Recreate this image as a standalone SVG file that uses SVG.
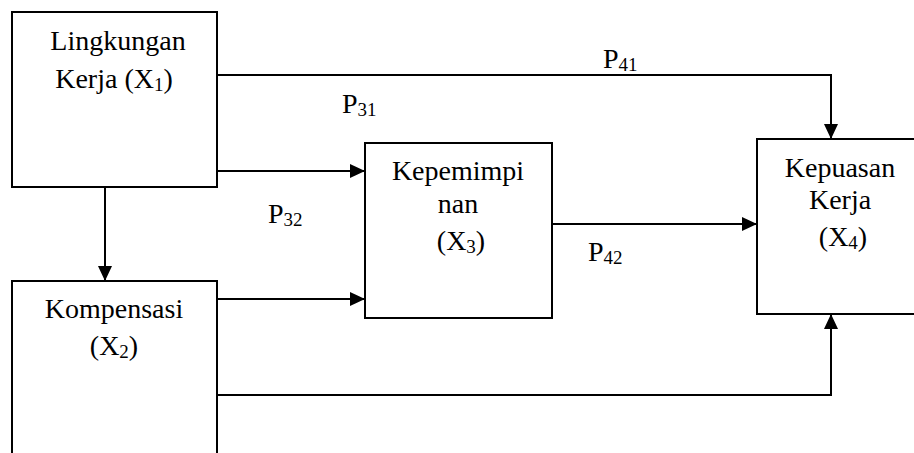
<svg xmlns="http://www.w3.org/2000/svg" width="914" height="453" viewBox="0 0 914 453">
<style>
.box{fill:#fff;stroke:#000;stroke-width:2}
.ln{fill:none;stroke:#000;stroke-width:2;marker-end:url(#ah)}
.m{text-anchor:middle}
</style>
<defs>
<marker id="ah" markerUnits="userSpaceOnUse" markerWidth="15" markerHeight="14" refX="15" refY="7" orient="auto">
<path d="M0,0 L15,7 L0,14 z" fill="#000"/>
</marker>
</defs>
<rect width="914" height="453" fill="#fff"/>
<g id="connectors">
<path class="ln" d="M217,75 H831 V139"/>
<path class="ln" d="M217,171 H365"/>
<path class="ln" d="M105,187 V281"/>
<path class="ln" d="M217,299 H365"/>
<path class="ln" d="M552,224 H757"/>
<path class="ln" d="M217,395 H831 V314"/>
</g>
<g font-family="Liberation Serif, Times New Roman, DejaVu Serif, serif" font-size="28" fill="#000">
<g id="x1">
<rect class="box" x="12" y="12" width="205" height="175"/>
<text class="m" x="118" y="50">Lingkungan</text>
<text class="m" x="114" y="88">Kerja (X<tspan font-size="19" dy="3">1</tspan><tspan dy="-3">)</tspan></text>
</g>
<g id="x2">
<rect class="box" x="12" y="281" width="205" height="200"/>
<text class="m" x="114" y="318">Kompensasi</text>
<text class="m" x="114" y="355">(X<tspan font-size="19" dy="3">2</tspan><tspan dy="-3">)</tspan></text>
</g>
<g id="x3">
<rect class="box" x="365" y="143" width="187" height="175"/>
<text class="m" x="458" y="180">Kepemimpi</text>
<text class="m" x="458" y="213">nan</text>
<text class="m" x="461" y="250">(X<tspan font-size="19" dy="3">3</tspan><tspan dy="-3">)</tspan></text>
</g>
<g id="x4">
<rect class="box" x="757" y="139" width="200" height="175"/>
<text class="m" x="840" y="177">Kepuasan</text>
<text class="m" x="840" y="209">Kerja</text>
<text class="m" x="843" y="246">(X<tspan font-size="19" dy="3">4</tspan><tspan dy="-3">)</tspan></text>
</g>
<g id="labels">
<text x="603" y="68">P<tspan font-size="19" dy="3">41</tspan></text>
<text x="342" y="113">P<tspan font-size="19" dy="3">31</tspan></text>
<text x="268" y="223">P<tspan font-size="19" dy="3">32</tspan></text>
<text x="588" y="261">P<tspan font-size="19" dy="3">42</tspan></text>
</g>
</g>
</svg>
